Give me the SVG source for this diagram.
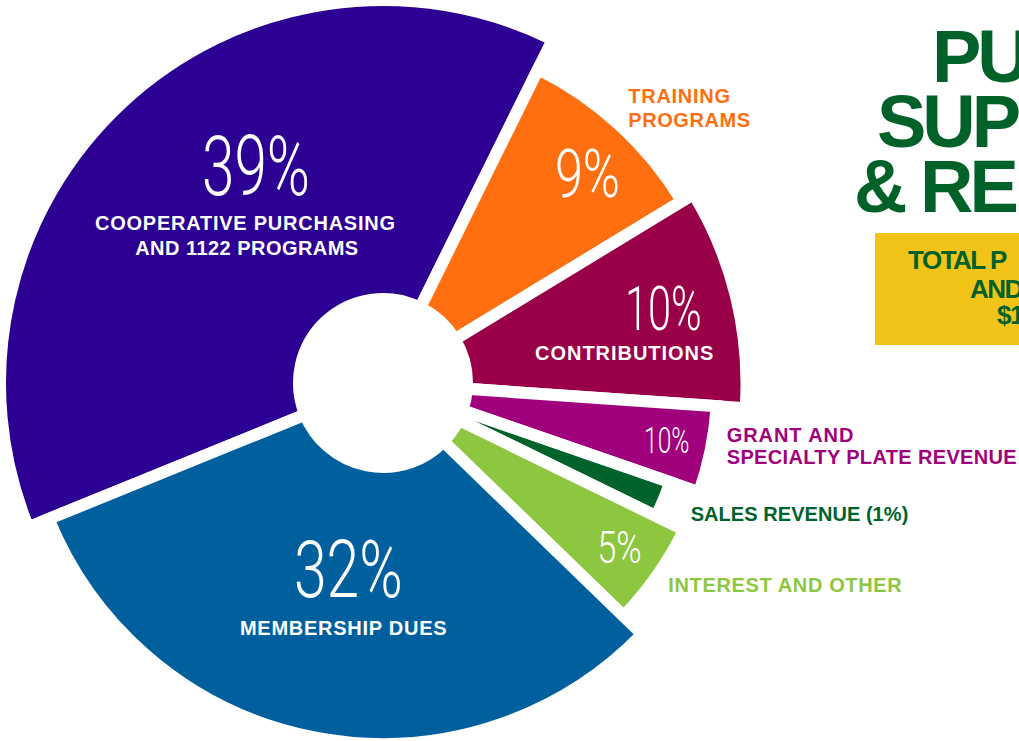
<svg xmlns="http://www.w3.org/2000/svg" width="1019" height="741" viewBox="0 0 1019 741">
<style>
.s{stroke:#fff;stroke-width:12;stroke-linejoin:miter;stroke-miterlimit:6}
.pct{font-family:Roboto,"Liberation Sans",sans-serif;font-weight:300;fill:#fff;text-anchor:middle}
.lbl{font-family:"Liberation Sans",Arial,sans-serif;font-weight:700;font-size:20px}
.w{fill:#fff;text-anchor:middle}
.title{font-family:"Liberation Sans",Arial,sans-serif;font-weight:700;font-size:74px;fill:#006129;letter-spacing:-4px}
.box{font-family:"Liberation Sans",Arial,sans-serif;font-weight:700;font-size:26px;fill:#006129;letter-spacing:-1.5px}
</style>
<rect width="1019" height="741" fill="#fff"/>
<g id="title">
<text class="title" x="932" y="81.7">PU</text>
<text class="title" x="877" y="146.7">SUP</text>
<text class="title" x="854" y="211.7">&amp; RE</text>
</g>
<g id="total-box">
<rect x="875" y="233" width="150" height="112" fill="#F1C417"/>
<text class="box" x="908" y="269.3">TOTAL P</text>
<text class="box" x="970" y="297.7">AND</text>
<text class="box" x="997" y="324">$1</text>
</g>
<g id="slice-cooperative">
<path class="s" fill="#2B0092" d="M 305.19 414.64 L 28.22 527.28 A 383 383 0 0 1 552.70 39.64 L 420.22 307.69 A 84 84 0 0 0 305.19 414.64 Z"/>
<text class="pct" x="256" y="195" font-size="84" textLength="108" lengthAdjust="spacingAndGlyphs">39%</text>
<text class="lbl w" x="245" y="230" textLength="300">COOPERATIVE PURCHASING</text>
<text class="lbl w" x="246.7" y="255" textLength="223">AND 1122 PROGRAMS</text>
</g>
<g id="slice-training">
<path class="s" fill="#FF6F10" d="M 420.22 307.69 L 538.08 69.23 A 350 350 0 0 1 682.06 201.16 L 454.78 339.36 A 84 84 0 0 0 420.22 307.69 Z"/>
<text class="pct" x="587.5" y="196.7" font-size="67.5" textLength="65" lengthAdjust="spacingAndGlyphs">9%</text>
<text class="lbl" fill="#FF6F10" x="628.3" y="103.3" textLength="101.7">TRAINING</text>
<text class="lbl" fill="#FF6F10" x="628.3" y="126.7" textLength="121.7">PROGRAMS</text>
</g>
<g id="slice-contributions">
<path class="s" fill="#990048" d="M 454.78 339.36 L 693.60 194.15 A 363.5 363.5 0 0 1 745.63 408.17 L 466.80 388.82 A 84 84 0 0 0 454.78 339.36 Z"/>
<text class="pct" x="663.3" y="330" font-size="61" textLength="76.7" lengthAdjust="spacingAndGlyphs">10%</text>
<text class="lbl w" x="624.2" y="360" textLength="178.3">CONTRIBUTIONS</text>
</g>
<g id="slice-grant">
<path class="s" fill="#A0007B" d="M 466.80 388.82 L 716.70 406.16 A 334.5 334.5 0 0 1 699.18 492.17 L 462.40 410.42 A 84 84 0 0 0 466.80 388.82 Z"/>
<text class="pct" x="666.7" y="452.7" font-size="36.6" textLength="45.3" lengthAdjust="spacingAndGlyphs">10%</text>
<text class="lbl" fill="#A0007B" x="726.7" y="442.3" textLength="126.7">GRANT AND</text>
<text class="lbl" fill="#A0007B" x="726.7" y="464.3" textLength="290">SPECIALTY PLATE REVENUE</text>
</g>
<g id="slice-sales">
<path class="s" fill="#00632B" d="M 462.40 410.42 L 670.35 482.22 A 304 304 0 0 1 656.23 516.26 L 458.50 419.82 A 84 84 0 0 0 462.40 410.42 Z"/>
<text class="lbl" fill="#00632B" x="690.7" y="520.5" textLength="217.6">SALES REVENUE (1%)</text>
</g>
<g id="slice-interest">
<path class="s" fill="#8DC63F" d="M 458.50 419.82 L 684.09 529.85 A 335 335 0 0 1 623.57 616.13 L 443.32 441.46 A 84 84 0 0 0 458.50 419.82 Z"/>
<text class="pct" x="619.5" y="563.3" font-size="44.6" textLength="44.4" lengthAdjust="spacingAndGlyphs">5%</text>
<text class="lbl" fill="#8DC63F" x="668.3" y="591.7" textLength="233.4">INTEREST AND OTHER</text>
</g>
<g id="slice-membership">
<path class="s" fill="#00609E" d="M 443.32 441.46 L 642.24 634.22 A 361 361 0 0 1 48.60 518.99 L 305.19 414.64 A 84 84 0 0 0 443.32 441.46 Z"/>
<text class="pct" x="348.3" y="596.7" font-size="80" textLength="108.7" lengthAdjust="spacingAndGlyphs">32%</text>
<text class="lbl w" x="343.3" y="635" textLength="206.7">MEMBERSHIP DUES</text>
</g>
<g id="connectors"></g>
</svg>
